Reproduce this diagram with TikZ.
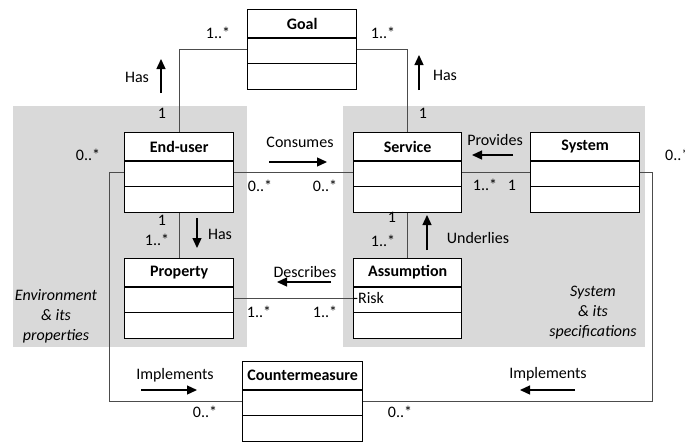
\documentclass[tikz,border=0pt]{standalone}
\usepackage{fontspec}
\setmainfont{Carlito}
\usetikzlibrary{arrows.meta}

\newcommand{\diafont}{\fontsize{16}{20}\selectfont}

\tikzstyle{umlclass}=[draw,line width=1.3pt,fill=white,rectangle,anchor=north west,minimum height=80pt,inner sep=0pt]
\tikzstyle{classname}=[font=\diafont\bfseries,inner sep=0pt]
\tikzstyle{assoc}=[draw=black!70,line width=0.9pt]
\tikzstyle{readdir}=[line width=1.3pt,-{Triangle[length=10pt,width=9pt]}]
\tikzstyle{region}=[fill=black!15,draw=none]
\tikzstyle{regionlabel}=[font=\diafont\itshape,align=center,inner sep=0pt]

% the two inner lines of a class box
\newcommand{\compartments}[1]{%
  \draw[line width=1.3pt] ([yshift=-29pt]#1.north west) -- ([yshift=-29pt]#1.north east)
    ([yshift=-54.5pt]#1.north west) -- ([yshift=-54.5pt]#1.north east);}

\begin{document}
\begin{tikzpicture}[x=1pt,y=-1pt,every node/.style={font=\diafont}]
  \useasboundingbox (0,0) rectangle (685,442);
  \fill[region] (13,106) rectangle (247,347);
  \fill[region] (343,106) rectangle (645,347);

  % classes
  \node[umlclass,minimum width=109pt] (goal) at (247,9) {};
  \node[umlclass,minimum width=109pt] (enduser) at (124,132) {};
  \node[umlclass,minimum width=108pt] (service) at (353,132) {};
  \node[umlclass,minimum width=109pt] (system) at (530,132) {};
  \node[umlclass,minimum width=109pt] (property) at (124,258) {};
  \node[umlclass,minimum width=108pt] (assumption) at (353,258) {};
  \node[umlclass,minimum width=120pt] (counter) at (242,361) {};
  \foreach \c in {goal,enduser,service,system,property,assumption,counter}
    {\compartments{\c}}

  \node[classname] (goal-name) at ([yshift=-14.5pt]goal.north) {Goal};
  \node[classname] (enduser-name) at ([yshift=-14.5pt]enduser.north) {End-user};
  \node[classname] (service-name) at ([yshift=-14.5pt]service.north) {Service};
  \node[classname] (system-name) at ([yshift=-14.5pt]system.north) {System};
  \node[classname] (property-name) at ([yshift=-14.5pt]property.north) {Property};
  \node[classname] (assumption-name) at ([yshift=-14.5pt]assumption.north) {Assumption};
  \node[classname] (counter-name) at ([yshift=-14.5pt]counter.north) {Countermeasure};
  \node[anchor=west,inner sep=0pt] (risk) at ([yshift=-40pt]assumption.north west) {-Risk};

  % associations
  \coordinate (lbend) at (109,172);
  \coordinate (rbend) at (652,172);
  \draw[assoc] ([yshift=-40pt]goal.north west) -| (enduser.north);
  \draw[assoc] ([yshift=-40pt]goal.north east) -| (service.north);
  \draw[assoc] ([yshift=-40pt]enduser.north east) -- ([yshift=-40pt]service.north west);
  \draw[assoc] ([yshift=-40pt]service.north east) -- ([yshift=-40pt]system.north west);
  \draw[assoc] (enduser.south) -- (property.north);
  \draw[assoc] (service.south) -- (assumption.north);
  \draw[assoc] ([yshift=-40pt]property.north east) -- ([yshift=-40pt]assumption.north west);
  \draw[assoc] ([yshift=-40pt]enduser.north west) -- (lbend) |- ([yshift=-40pt]counter.north west);
  \draw[assoc] ([yshift=-40pt]system.north east) -- (rbend) |- ([yshift=-40pt]counter.north east);

  % multiplicities
  \node (m1) at (218,33) {1..*};
  \node (m2) at (383,33) {1..*};
  \node (m3) at (162,113) {1};
  \node (m4) at (423,113) {1};
  \node (m5) at (88,155) {0..*};
  \node (m6) at (260,186) {0..*};
  \node (m7) at (325,186) {0..*};
  \node (m8) at (485,185) {1..*};
  \node (m9) at (512,185) {1};
  \node[anchor=west,inner sep=0pt] (m10) at (665,155) {0..*};
  \node (m11) at (162,220) {1};
  \node (m12) at (157,240) {1..*};
  \node (m13) at (392,217) {1};
  \node (m14) at (383,241) {1..*};
  \node (m15) at (259,312) {1..*};
  \node (m16) at (325,312) {1..*};
  \node (m17) at (205,412) {0..*};
  \node (m18) at (400,412) {0..*};

  % association names and reading directions
  \node (has1) at (137,77) {Has};
  \draw[readdir] (161,93) -- (161,59);
  \node (has2) at (445,75) {Has};
  \draw[readdir] (419,90) -- (419,55);
  \node (consumes) at (300,142) {Consumes};
  \draw[readdir] (269,162) -- (327,162);
  \node (provides) at (495,140) {Provides};
  \draw[readdir] (513,155) -- (472,155);
  \node (has3) at (220,234) {Has};
  \draw[readdir] (197,218) -- (197,248);
  \node (underlies) at (478,238) {Underlies};
  \draw[readdir] (427,250) -- (427,215);
  \node (describes) at (305,272) {Describes};
  \draw[readdir] (331,282) -- (277,282);
  \node (impl1) at (175,375) {Implements};
  \draw[readdir] (141,390) -- (197,390);
  \node (impl2) at (548,374) {Implements};
  \draw[readdir] (575,390) -- (520,390);

  % areas
  \node[regionlabel] (envlabel) at (56,316) {Environment\\\& its\\properties};
  \node[regionlabel] (syslabel) at (593,313) {System\\\& its\\specifications};
\end{tikzpicture}
\end{document}
